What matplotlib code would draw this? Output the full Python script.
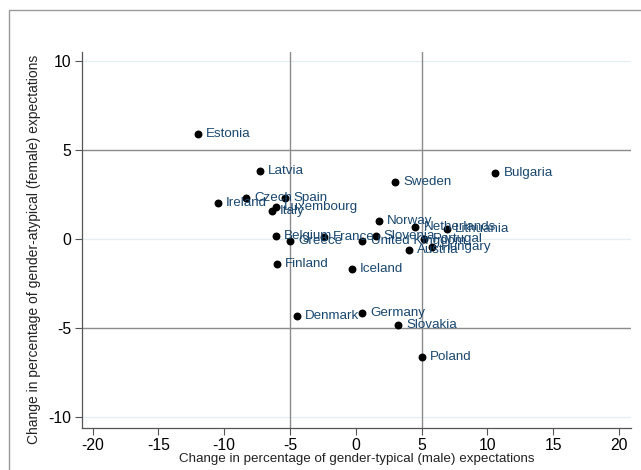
import matplotlib.pyplot as plt
from matplotlib.patches import Rectangle

# ===== DATA =====
countries = ["Estonia", "Latvia", "Czech", "Spain", "Ireland", "Luxembourg",
             "Italy", "Belgium", "Greece", "France", "Finland", "Iceland",
             "Norway", "Slovenia", "United Kingdom", "Austria", "Netherlands",
             "Portugal", "Lithuania", "Hungary", "Sweden", "Bulgaria",
             "Denmark", "Germany", "Slovakia", "Poland"]
male_change = [-12.0, -7.3, -8.35, -5.4, -10.5, -6.1,
               -6.4, -6.1, -5.0, -2.4, -6.0, -0.3,
               1.75, 1.5, 0.5, 4.0, 4.5,
               5.2, 6.9, 5.8, 3.0, 10.6,
               -4.5, 0.5, 3.2, 5.0]
female_change = [5.9, 3.8, 2.3, 2.3, 2.0, 1.8,
                 1.6, 0.2, -0.1, 0.1, -1.4, -1.7,
                 1.0, 0.15, -0.1, -0.6, 0.7,
                 0.0, 0.55, -0.45, 3.2, 3.7,
                 -4.3, -4.15, -4.8, -6.6]

xticks = [-20, -15, -10, -5, 0, 5, 10, 15, 20]
yticks = [-10, -5, 0, 5, 10]

plt.rcParams['font.family'] = ['Liberation Sans', 'DejaVu Sans']
plt.rcParams['axes.unicode_minus'] = False

fig = plt.figure(figsize=(6.41, 4.70), dpi=100)
fig.patch.set_facecolor('white')

# outer graph region border (Stata style)
fig.patches.append(Rectangle((9 / 641, -0.1), 1.2, 1.1 - 10 / 470,
                             transform=fig.transFigure, fill=False,
                             edgecolor='#9a9a9a', linewidth=1.0))

ax = fig.add_axes([82 / 641, 1 - 428 / 470, (631 - 82) / 641, (428 - 52) / 470])
ax.set_facecolor('white')

# grid + reference lines
for yt in yticks:
    ax.axhline(yt, color='#e4eef0', linewidth=0.9, zorder=0)
for v in (-5, 5):
    ax.axvline(v, color='#8c8c8c', linewidth=1.0, zorder=1)
    ax.axhline(v, color='#8c8c8c', linewidth=1.0, zorder=1)

ax.scatter(male_change, female_change, s=22, color='black', zorder=3)
for name, xv, yv in zip(countries, male_change, female_change):
    ax.annotate(name, (xv, yv), xytext=(6, 0), textcoords='offset points',
                va='center', ha='left', fontsize=9.6, color='#1a476f', zorder=4)

ax.set_xlim(-20.8, 20.9)
ax.set_ylim(-10.6, 10.5)
ax.set_xticks(xticks)
ax.set_yticks(yticks)
ax.tick_params(axis='both', labelsize=11.3, length=5, width=0.8, color='#555555',
               direction='out', pad=2.5)

for side in ('top', 'right'):
    ax.spines[side].set_visible(False)
for side in ('left', 'bottom'):
    ax.spines[side].set_color('#555555')
    ax.spines[side].set_linewidth(0.9)

ax.set_xlabel("Change in percentage of gender-typical (male) expectations",
              fontsize=9.6, color='#222222', labelpad=0)
ax.set_ylabel("Change in percentage of gender-atypical (female) expectations",
              fontsize=10, color='#222222')
ax.yaxis.set_label_coords(-0.075, 0.476)

fig.savefig('out.png', dpi=100)
